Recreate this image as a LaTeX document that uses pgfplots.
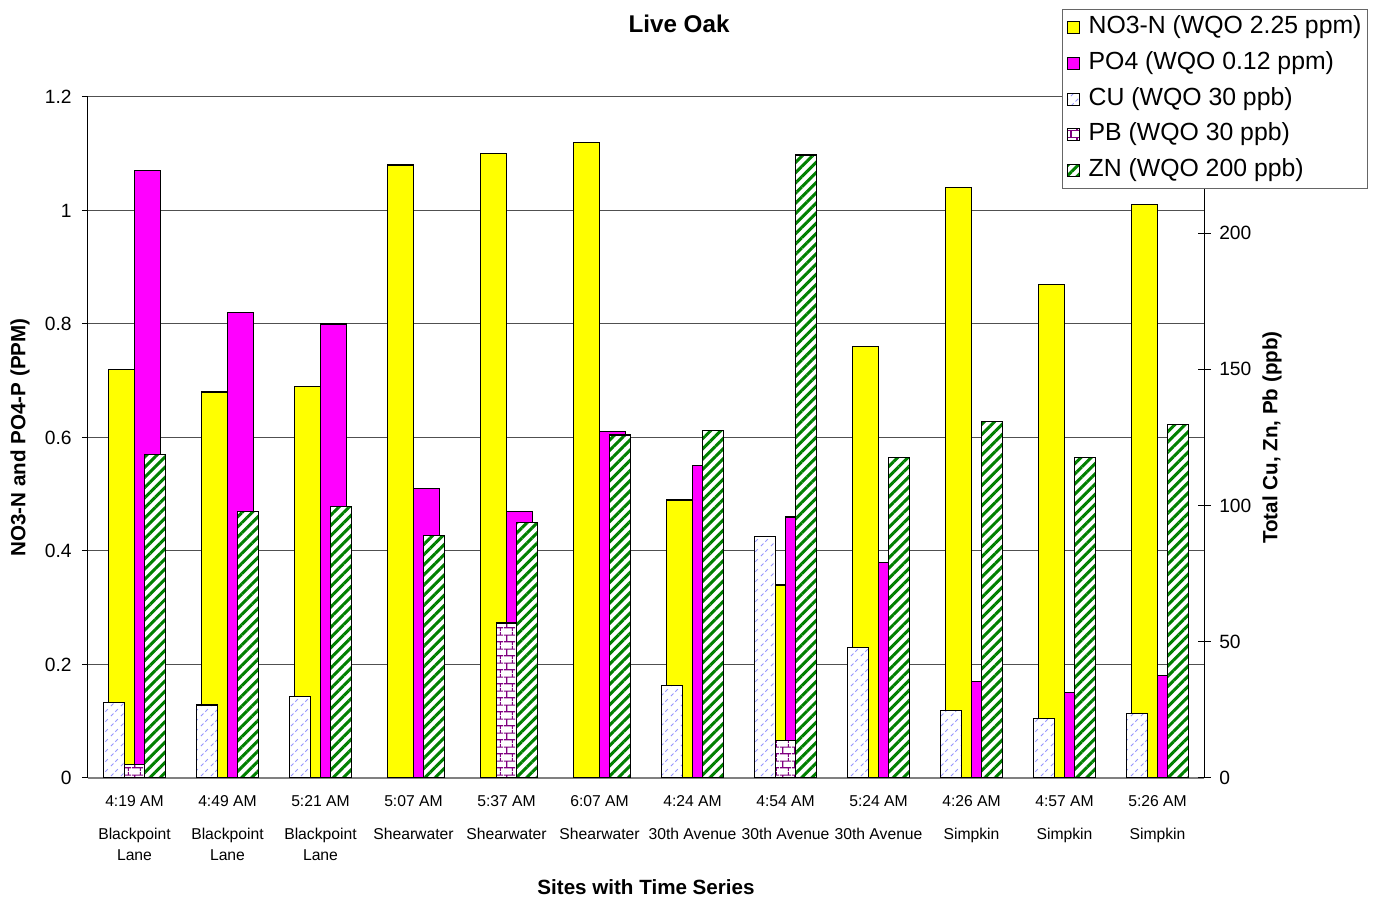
\documentclass[border=0pt]{standalone}
\usepackage{pgfplots}
\pgfplotsset{compat=1.18}
\usepackage{fontspec}
\setmainfont{Liberation Sans}
\usetikzlibrary{patterns,patterns.meta}

\definecolor{cYellow}{RGB}{255,255,0}
\definecolor{cMag}{RGB}{255,0,255}
\definecolor{cGreen}{RGB}{0,128,0}
\definecolor{cPurple}{RGB}{128,0,128}
\definecolor{cBlue}{RGB}{150,150,255}
\definecolor{cGrid}{RGB}{80,80,80}

\pgfdeclarepatternformonly{cudash}{\pgfqpoint{0pt}{0pt}}{\pgfqpoint{5pt}{5pt}}{\pgfqpoint{5pt}{5pt}}{%
  \pgfsetlinewidth{0.5pt}%
  \pgfpathmoveto{\pgfqpoint{0.5pt}{0.5pt}}\pgfpathlineto{\pgfqpoint{1.9pt}{1.9pt}}%
  \pgfpathmoveto{\pgfqpoint{2.9pt}{2.9pt}}\pgfpathlineto{\pgfqpoint{4.3pt}{4.3pt}}%
  \pgfusepathqstroke}

\pgfdeclarepatternformonly{pbbricks}{\pgfqpoint{0pt}{0pt}}{\pgfqpoint{6pt}{7pt}}{\pgfqpoint{6pt}{7pt}}{%
  \pgfsetlinewidth{0.6pt}%
  \pgfpathmoveto{\pgfqpoint{0pt}{1.75pt}}\pgfpathlineto{\pgfqpoint{6pt}{1.75pt}}%
  \pgfpathmoveto{\pgfqpoint{0pt}{5.25pt}}\pgfpathlineto{\pgfqpoint{6pt}{5.25pt}}%
  \pgfpathmoveto{\pgfqpoint{1.5pt}{1.75pt}}\pgfpathlineto{\pgfqpoint{1.5pt}{5.25pt}}%
  \pgfpathmoveto{\pgfqpoint{4.5pt}{5.25pt}}\pgfpathlineto{\pgfqpoint{4.5pt}{7pt}}%
  \pgfpathmoveto{\pgfqpoint{4.5pt}{0pt}}\pgfpathlineto{\pgfqpoint{4.5pt}{1.75pt}}%
  \pgfusepathqstroke}

\newcommand\tickfont{\fontsize{9.6}{11.5}\selectfont}
\newcommand\catfont{\fontsize{7.85}{10.5}\selectfont}
\newcommand\labfont{\fontsize{10.3}{12}\selectfont\bfseries}
\newcommand\titfont{\fontsize{12.1}{14}\selectfont\bfseries}
\newcommand\legfont{\fontsize{12.4}{14}\selectfont}

\pgfplotstableread{
x no3 po4
0 0.72 1.07
1 0.68 0.82
2 0.69 0.80
3 1.08 0.51
4 1.10 0.47
5 1.12 0.61
6 0.49 0.55
7 0.34 0.46
8 0.76 0.38
9 1.04 0.17
10 0.87 0.15
11 1.01 0.18
}\nutrients

\pgfplotstableread{
x cu
0 27.7
1 26.8
2 29.9
6 33.9
7 88.8
8 47.8
9 24.9
10 21.8
11 23.8
}\cutab

\pgfplotstableread{
x pb
0 4.9
4 56.9
7 13.9
}\pbtab

\pgfplotstableread{
x zn
0 118.8
1 97.9
2 99.7
3 88.9
4 93.8
5 125.9
6 127.7
7 228.7
8 117.8
9 130.9
10 117.8
11 129.8
}\zntab

\pgfplotsset{
  base/.style={
    width=558pt, height=340.5pt, scale only axis,
    xmin=-0.5, xmax=11.5, at={(0,0)}, anchor=south west,
    /pgf/number format/assume math mode=true,
    yticklabel style={font=\tickfont, inner sep=0pt},
  },
  sqleg/.style={legend image code/.code={\draw[##1, line width=0.5pt] (0pt,-3pt) rectangle (6pt,3pt);}},
  cuStyle/.style={draw=black, line width=0.6pt, fill=white, postaction={pattern=cudash, pattern color=cBlue, draw=black}},
  pbStyle/.style={draw=black, line width=0.6pt, fill=white, postaction={pattern=pbbricks, pattern color=cPurple, draw=black}},
  znStyle/.style={draw=black, line width=0.6pt, fill=white, postaction={pattern={Lines[angle=45,distance=3.6pt,line width=1.5pt]}, pattern color=cGreen, draw=black}},
}

\begin{document}
\begin{tikzpicture}
\useasboundingbox (-44pt,-59.5pt) rectangle (645.5pt,389pt);

\begin{axis}[base,
  ymin=0, ymax=1.2, ytick={0,0.2,0.4,0.6,0.8,1,1.2},
  axis x line*=bottom, axis y line*=left,
  x axis line style={draw=black!50, line width=0.6pt},
  y axis line style={draw=black, line width=0.5pt},
  ymajorgrids, grid style={cGrid, line width=0.5pt},
  ytick align=outside, ytick style={draw=black, line width=0.5pt}, major tick length=3pt,
  yticklabel style={xshift=-5pt},
  xtick={0,...,11}, x tick style={draw=none},
  xticklabels={
    {4:19 AM\\[6pt]Blackpoint\\Lane},
    {4:49 AM\\[6pt]Blackpoint\\Lane},
    {5:21 AM\\[6pt]Blackpoint\\Lane},
    {5:07 AM\\[6pt]Shearwater},
    {5:37 AM\\[6pt]Shearwater},
    {6:07 AM\\[6pt]Shearwater},
    {4:24 AM\\[6pt]30th Avenue},
    {4:54 AM\\[6pt]30th Avenue},
    {5:24 AM\\[6pt]30th Avenue},
    {4:26 AM\\[6pt]Simpkin},
    {4:57 AM\\[6pt]Simpkin},
    {5:26 AM\\[6pt]Simpkin}},
  xticklabel style={font=\catfont, align=center, anchor=north, inner sep=0pt, yshift=-8.5pt},
  xlabel={Sites with Time Series},
  xlabel style={font=\labfont, at={(axis description cs:0.5,-0.1601)}, anchor=center},
  ylabel={NO3-N and PO4-P (PPM)},
  ylabel style={font=\labfont, at={(axis description cs:-0.0609,0.5)}, anchor=center},
  title={Live Oak},
  title style={font=\titfont, at={(axis description cs:0.5296,1.0896)}, anchor=center},
]
\addplot[ybar, bar width=0.28, bar shift=-0.14, fill=cYellow, draw=black, line width=0.6pt] table[x=x, y=no3] {\nutrients};
\addplot[ybar, bar width=0.28, bar shift=0.14, fill=cMag, draw=black, line width=0.6pt] table[x=x, y=po4] {\nutrients};
\end{axis}

\begin{axis}[base,
  ymin=0, ymax=250, ytick={0,50,100,150,200},
  axis y line*=right, axis x line=none,
  y axis line style={draw=black, line width=0.5pt},
  ytick align=center, ytick style={draw=black, line width=0.5pt}, major tick length=6.5pt,
  yticklabel style={xshift=4.2pt},
  ylabel={Total Cu, Zn, Pb (ppb)},
  ylabel style={font=\labfont, at={(axis description cs:1.0609,0.5)}, anchor=center},
  legend style={at={(axis description cs:0.8728,1.1293)}, anchor=north west,
    draw=black!60, line width=0.6pt, fill=white, font=\legfont,
    inner xsep=2pt, inner ysep=2pt, row sep=3.9pt,
    nodes={inner sep=1pt, text height=9pt, text depth=3pt},
    /tikz/every odd column/.append style={column sep=3.5pt},
    /tikz/every even column/.append style={column sep=0pt}},
  legend cell align=left,
]
\addlegendimage{sqleg, fill=cYellow, draw=black}
\addlegendentry{NO3-N (WQO 2.25 ppm)}
\addlegendimage{sqleg, fill=cMag, draw=black}
\addlegendentry{PO4 (WQO 0.12 ppm)}
\addplot[ybar, bar width=0.22, bar shift=-0.22, cuStyle, sqleg] table[x=x, y=cu] {\cutab};
\addlegendentry{CU (WQO 30 ppb)}
\addplot[ybar, bar width=0.22, bar shift=0, pbStyle, sqleg] table[x=x, y=pb] {\pbtab};
\addlegendentry{PB (WQO 30 ppb)}
\addplot[ybar, bar width=0.22, bar shift=0.22, znStyle, sqleg] table[x=x, y=zn] {\zntab};
\addlegendentry{ZN (WQO 200 ppb)}
\end{axis}
\end{tikzpicture}
\end{document}
